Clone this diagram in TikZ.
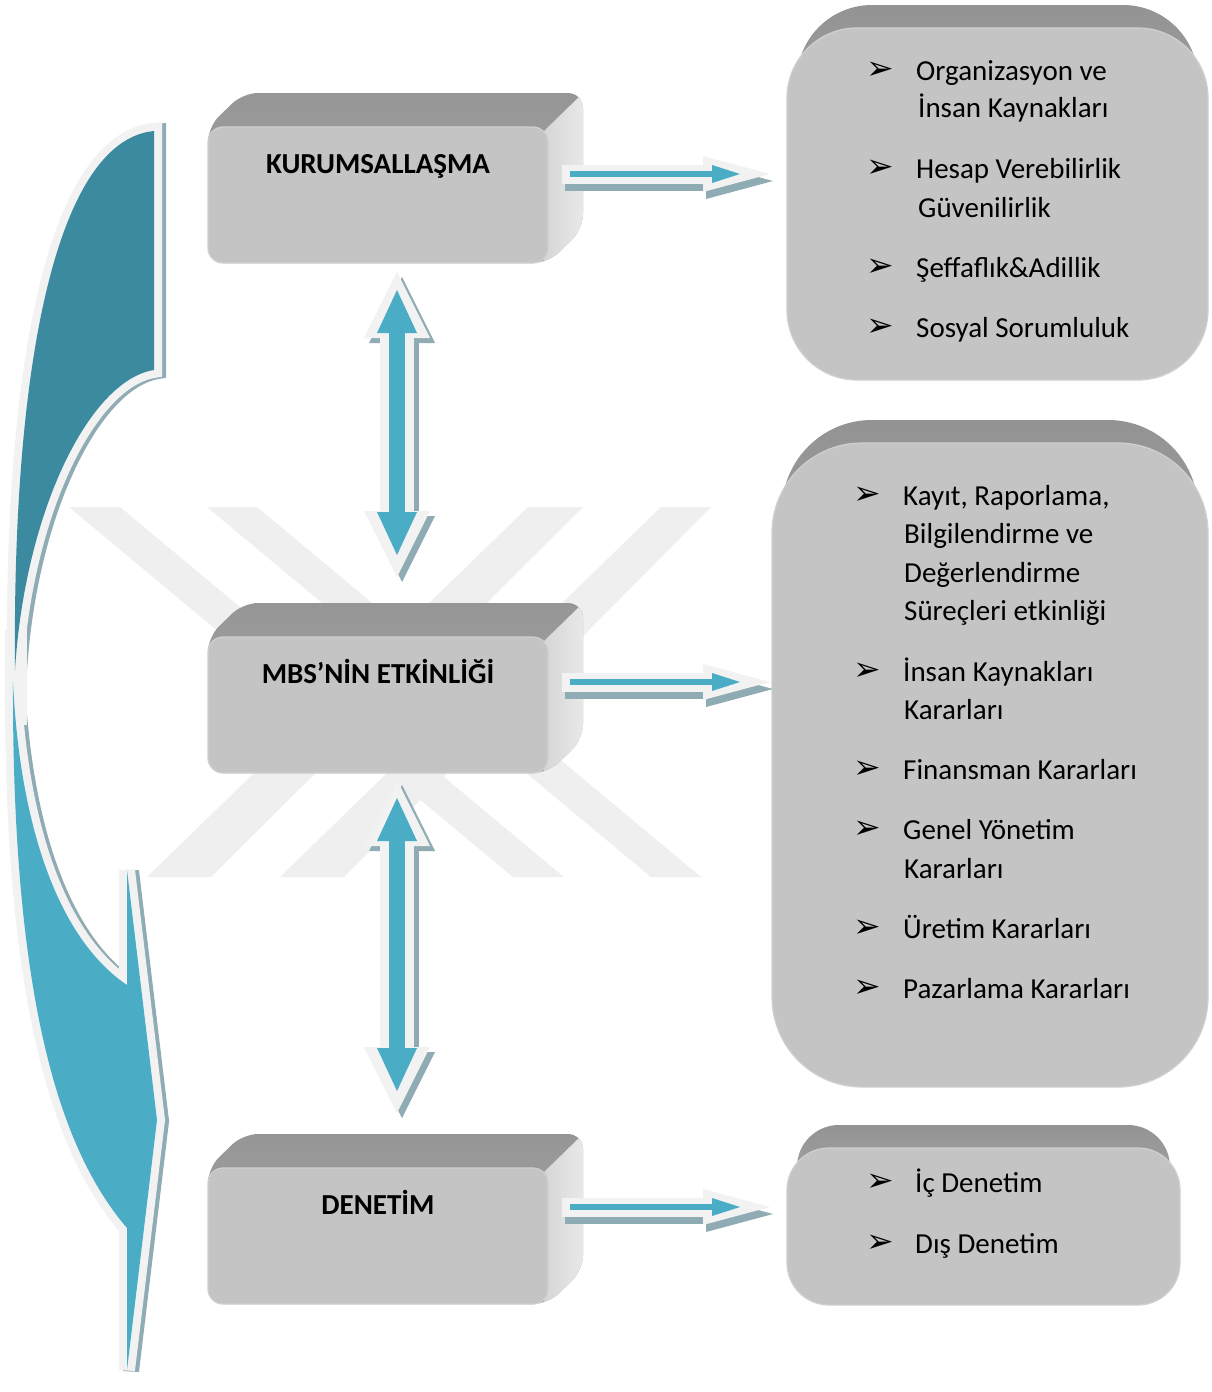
\documentclass[tikz,border=0pt]{standalone}
\usepackage{fontspec}
\setmainfont{Carlito}
\newfontfamily\symfont{DejaVu Sans}
\usetikzlibrary{arrows.meta}
\definecolor{tealc}{HTML}{4BACC6}
\definecolor{darkteal}{HTML}{3C8A9F}
\definecolor{shadowc}{HTML}{8FABB3}
\definecolor{outc}{HTML}{F2F2F2}
\definecolor{frontc}{HTML}{C4C4C4}
\definecolor{edgec}{HTML}{D0D0D0}
\definecolor{topdark}{HTML}{969696}
\definecolor{toplight}{HTML}{A8A8A8}
\definecolor{sidel}{HTML}{D6D6D6}
\definecolor{sider}{HTML}{F0F0F0}
\definecolor{backtop}{HTML}{939393}
\definecolor{backbot}{HTML}{C0C0C0}
\definecolor{wmc}{HTML}{EFEFEF}

\newcommand\lbox[3]{%
  \shade[top color=topdark, bottom color=toplight, rounded corners=15pt]
    (208,#2) -- (243,#2-34) -- (583,#2-34) -- (583,#2+102) -- (548,#2+136) -- (208,#2+136) -- cycle;
  \begin{scope}
    \clip[rounded corners=15pt] (208,#2) -- (243,#2-34) -- (583,#2-34) -- (583,#2+102) -- (548,#2+136) -- (208,#2+136) -- cycle;
    \shade[left color=sidel, right color=sider] (544,#2+4) -- (579,#2-30) -- (600,#2-30) -- (600,#2+150) -- (544,#2+150) -- cycle;
  \end{scope}
  \node[frontbox, minimum width=340pt, minimum height=136pt, rounded corners=15pt] (#1) at (378,#2+68) {};
  \node[boxlabel] (#1t) at (378,#2+46) {#3};
}
\newcommand\darkshape{(154,131) -- (154,370) .. controls (90,380) and (25,510) .. (15,670) .. controls (12,350) and (60,140) .. (154,131) -- cycle}
\newcommand\lightshape{(13,682) .. controls (20,830) and (60,940) .. (127,985) -- (127,870) -- (157,1120) -- (127,1370) -- (127,1228) .. controls (60,1150) and (12,1000) .. (13,682) -- cycle}

\begin{document}
\begin{tikzpicture}[x=1pt,y=-1pt,line join=miter,
  frontbox/.style={draw=edgec, fill=frontc, line width=1.2pt, inner sep=0pt},
  boxlabel/.style={font=\bfseries\fontsize{29pt}{35pt}\selectfont, anchor=base, inner sep=0pt},
  itemtext/.style={font=\fontsize{29pt}{35pt}\selectfont, anchor=base west, inner sep=0pt},
  bul/.style={font=\symfont\fontsize{33pt}{33pt}\selectfont, inner sep=0pt, anchor=center},
  hblock/.style={draw=outc, line width=19pt, -{Triangle[length=67pt,width=36pt,line width=0pt]},
    preaction={draw=shadowc, line width=19pt, -{Triangle[length=67pt,width=36pt,line width=0pt]}, transform canvas={xshift=3pt,yshift=-7pt}},
    postaction={draw=tealc, line width=5.5pt, shorten <=8pt, shorten >=30pt, -{Triangle[length=28pt,width=18pt,line width=0pt]}}},
  vblock/.style={draw=outc, line width=34pt, {Triangle[length=66pt,width=66pt,line width=0pt]}-{Triangle[length=66pt,width=66pt,line width=0pt]},
    preaction={draw=shadowc, line width=34pt, {Triangle[length=66pt,width=66pt,line width=0pt]}-{Triangle[length=66pt,width=66pt,line width=0pt]}, transform canvas={xshift=5pt,yshift=-5pt}},
    postaction={draw=tealc, line width=16pt, shorten <=18pt, shorten >=22pt, {Triangle[length=43pt,width=40pt,line width=0pt]}-{Triangle[length=43pt,width=40pt,line width=0pt]}}}
]
\useasboundingbox (0,0) rectangle (1211,1392);
\fill[white] (0,0) rectangle (1211,1392);

% watermark
\fill[wmc] (69,507) -- (120,507) -- (564,877) -- (513,877) -- cycle;
\fill[wmc] (207,507) -- (257,507) -- (701,877) -- (651,877) -- cycle;
\fill[wmc] (528,507) -- (583,507) -- (211,877) -- (147,877) -- cycle;
\fill[wmc] (661,507) -- (711,507) -- (344,877) -- (280,877) -- cycle;

% left curved arrow
\path[fill=shadowc, draw=shadowc, line width=16pt, shift={(4,1)}] \darkshape;
\path[fill=shadowc, draw=shadowc, line width=16pt, shift={(4,1)}] \lightshape;
\path[fill=outc, draw=outc, line width=16pt] \darkshape;
\path[fill=outc, draw=outc, line width=16pt] \lightshape;
\fill[outc] (5,630) rectangle (27,725);
\fill[darkteal] \darkshape;
\fill[tealc] \lightshape;

% left 3D boxes
\lbox{k}{127}{KURUMSALLAŞMA}
\lbox{m}{637}{MBS’NİN ETKİNLİĞİ}
\lbox{d}{1168}{DENETİM}

% right boxes
\shade[top color=backtop, bottom color=backbot, rounded corners=75pt] (797,5) rectangle (1198,357);
\node[frontbox, rounded corners=70pt, minimum width=421pt, minimum height=352pt] (r1) at (997.5,204) {};
\shade[top color=backtop, bottom color=backbot, rounded corners=90pt] (782,420) rectangle (1198,1064);
\node[frontbox, rounded corners=90pt, minimum width=436pt, minimum height=644pt] (r2) at (990,765) {};
\shade[top color=backtop, bottom color=backbot, rounded corners=42pt] (797,1125) rectangle (1170,1282);
\node[frontbox, rounded corners=42pt, minimum width=393pt, minimum height=157pt] (r3) at (983.5,1226.5) {};

% items box 1
\node[bul] (b11) at (880,71) {➢};
\node[itemtext] (t11) at (916,80) {Organizasyon ve};
\node[itemtext] (t12) at (918,117) {İnsan Kaynakları};
\node[bul] (b12) at (880,169) {➢};
\node[itemtext] (t13) at (916,178) {Hesap Verebilirlik};
\node[itemtext] (t14) at (918,217) {Güvenilirlik};
\node[bul] (b13) at (880,268) {➢};
\node[itemtext] (t15) at (916,277) {Şeffaflık\&Adillik};
\node[bul] (b14) at (880,328) {➢};
\node[itemtext] (t16) at (916,337) {Sosyal Sorumluluk};

% items box 2
\node[bul] (b21) at (867,496) {➢};
\node[itemtext] (t21) at (903,505) {Kayıt, Raporlama,};
\node[itemtext] (t22) at (904,543) {Bilgilendirme ve};
\node[itemtext] (t23) at (904,582) {Değerlendirme};
\node[itemtext] (t24) at (904,620) {Süreçleri etkinliği};
\node[bul] (b22) at (867,672) {➢};
\node[itemtext] (t25) at (903,681) {İnsan Kaynakları};
\node[itemtext] (t26) at (904,719) {Kararları};
\node[bul] (b23) at (867,770) {➢};
\node[itemtext] (t27) at (903,779) {Finansman Kararları};
\node[bul] (b24) at (867,830) {➢};
\node[itemtext] (t28) at (903,839) {Genel Yönetim};
\node[itemtext] (t29) at (904,878) {Kararları};
\node[bul] (b25) at (867,929) {➢};
\node[itemtext] (t2a) at (903,938) {Üretim Kararları};
\node[bul] (b26) at (867,989) {➢};
\node[itemtext] (t2b) at (903,998) {Pazarlama Kararları};

% items box 3
\node[bul] (b31) at (880,1183) {➢};
\node[itemtext] (t31) at (915,1192) {İç Denetim};
\node[bul] (b32) at (880,1244) {➢};
\node[itemtext] (t32) at (915,1253) {Dış Denetim};

% arrows
\coordinate (h1s) at (562,174); \coordinate (h1e) at (770,174);
\coordinate (h2s) at (562,682); \coordinate (h2e) at (770,682);
\coordinate (h3s) at (562,1207); \coordinate (h3e) at (770,1207);
\draw[hblock] (h1s) -- (h1e);
\draw[hblock] (h2s) -- (h2e);
\draw[hblock] (h3s) -- (h3e);
\coordinate (v1s) at (397,272); \coordinate (v1e) at (397,577);
\coordinate (v2s) at (397,780); \coordinate (v2e) at (397,1113);
\draw[vblock] (v1s) -- (v1e);
\draw[vblock] (v2s) -- (v2e);
\end{tikzpicture}
\end{document}
